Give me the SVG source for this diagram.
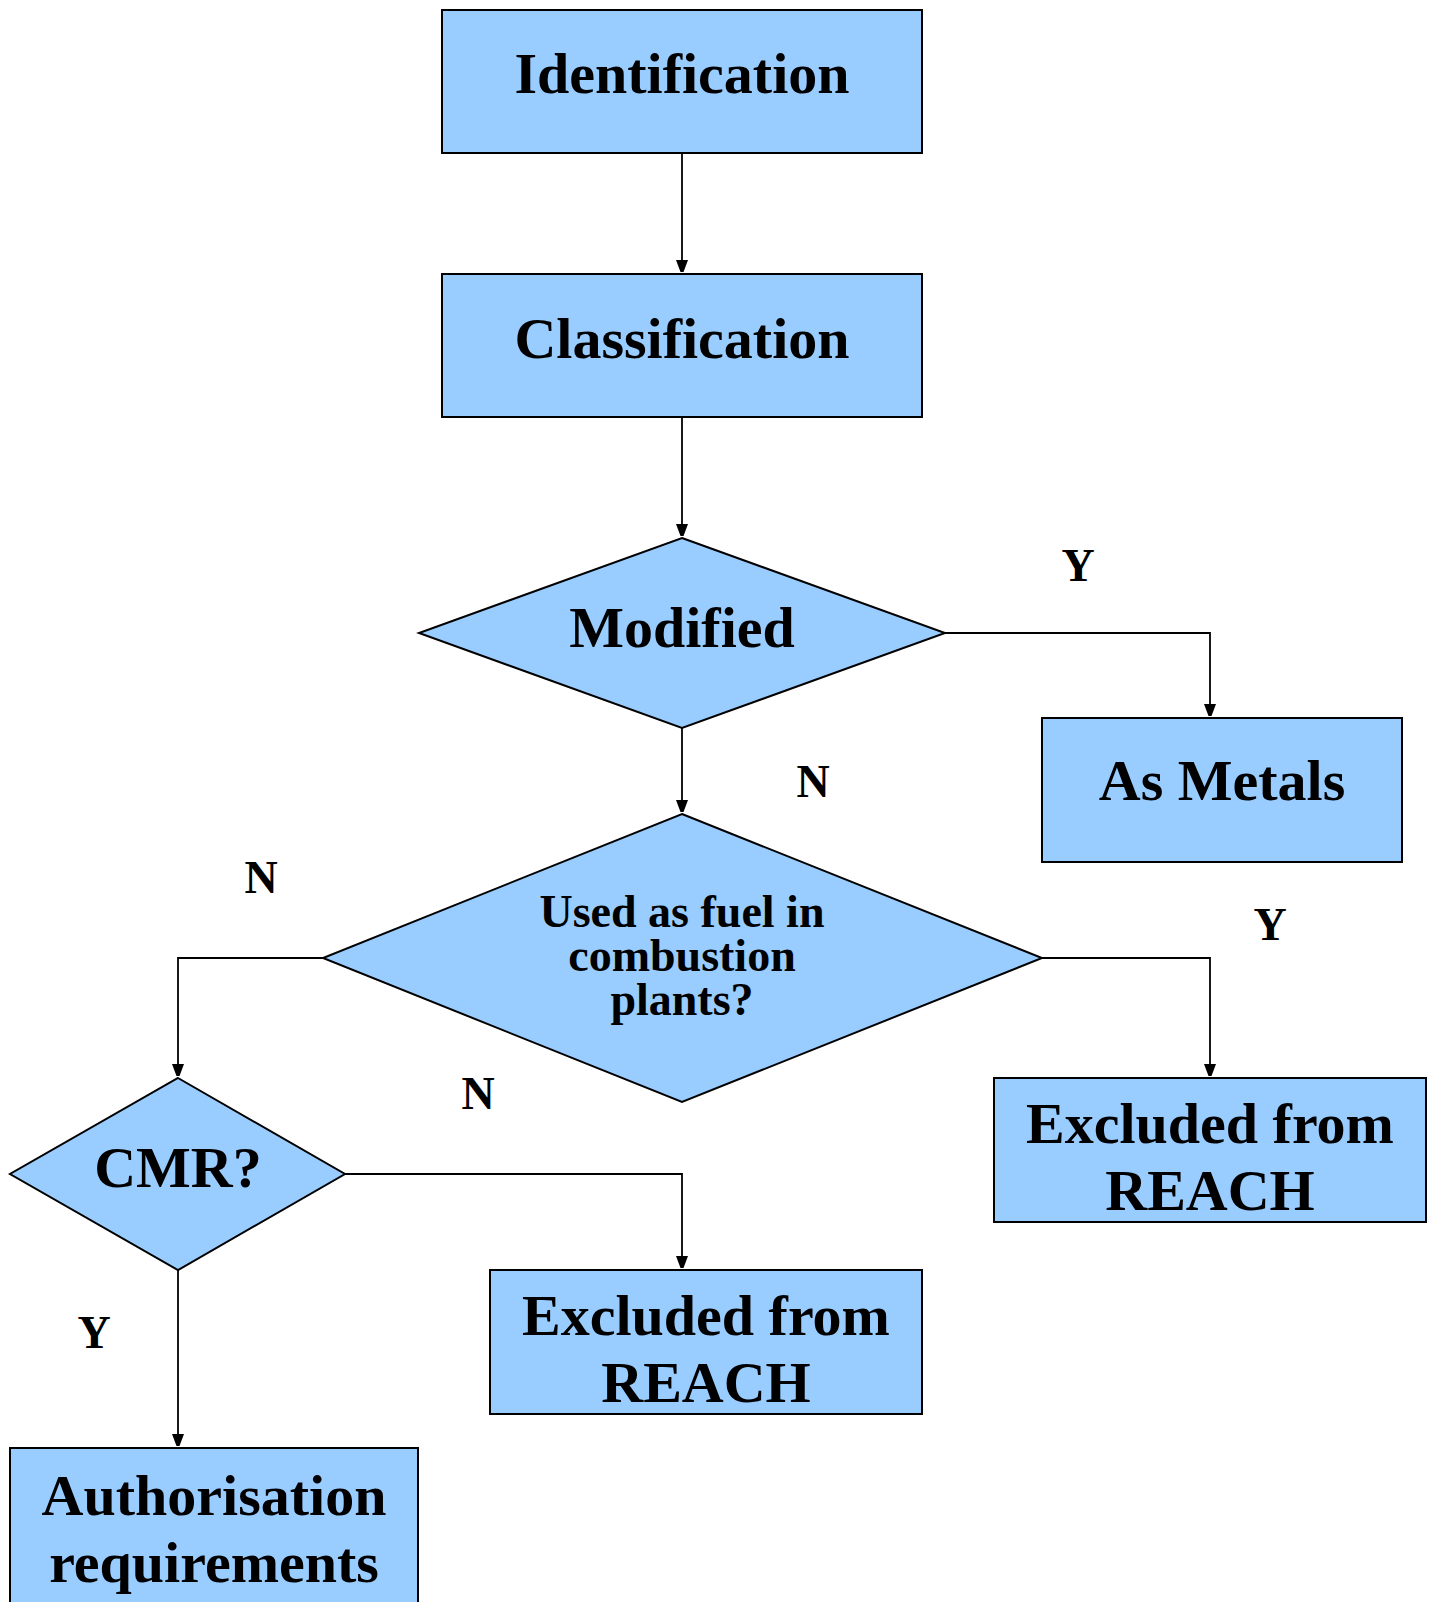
<svg xmlns="http://www.w3.org/2000/svg" width="1434" height="1602" viewBox="0 0 1434 1602">
<style>
.node{fill:#99CCFF;stroke:#000;stroke-width:2}
.t{font-family:"Liberation Serif","Times New Roman",serif;font-weight:bold;font-size:58px;fill:#000;text-anchor:middle}
.s{font-size:46px}
.c{fill:none;stroke:#000;stroke-width:1.8}
</style>
<defs>
<marker id="ah" viewBox="0 0 12 16" refX="12" refY="6" markerWidth="12" markerHeight="16" markerUnits="userSpaceOnUse" orient="auto">
<path d="M0,0 L16,6 L0,12 Z" fill="#000"/>
</marker>
</defs>
<rect width="1434" height="1602" fill="#fff"/>
<g id="connectors">
<path class="c" d="M682,153 V272" marker-end="url(#ah)"/>
<path class="c" d="M682,417 V536" marker-end="url(#ah)"/>
<path class="c" d="M945,633 H1210 V716" marker-end="url(#ah)"/>
<path class="c" d="M682,728 V812" marker-end="url(#ah)"/>
<path class="c" d="M323,958 H178 V1076" marker-end="url(#ah)"/>
<path class="c" d="M1042,958 H1210 V1076" marker-end="url(#ah)"/>
<path class="c" d="M345,1174 H682 V1268" marker-end="url(#ah)"/>
<path class="c" d="M178,1270 V1446" marker-end="url(#ah)"/>
<text class="t s" x="1078" y="581">Y</text>
<text class="t s" x="813" y="797">N</text>
<text class="t s" x="261" y="893">N</text>
<text class="t s" x="1270" y="940">Y</text>
<text class="t s" x="478" y="1109">N</text>
<text class="t s" x="94" y="1348">Y</text>
</g>
<g id="identification">
<rect class="node" x="442" y="10" width="480" height="143"/>
<text class="t" x="682" y="93">Identification</text>
</g>
<g id="classification">
<rect class="node" x="442" y="274" width="480" height="143"/>
<text class="t" x="682" y="358">Classification</text>
</g>
<g id="modified">
<polygon class="node" points="682,538 945,633 682,728 419,633"/>
<text class="t" x="682" y="647">Modified</text>
</g>
<g id="as-metals">
<rect class="node" x="1042" y="718" width="360" height="144"/>
<text class="t" x="1222" y="800">As Metals</text>
</g>
<g id="used-as-fuel">
<polygon class="node" points="682,814 1042,958 682,1102 323,958"/>
<text class="t s" x="682" y="927">Used as fuel in</text>
<text class="t s" x="682" y="971">combustion</text>
<text class="t s" x="682" y="1015">plants?</text>
</g>
<g id="excluded-1">
<rect class="node" x="994" y="1078" width="432" height="144"/>
<text class="t" x="1210" y="1143">Excluded from</text>
<text class="t" x="1210" y="1210">REACH</text>
</g>
<g id="cmr">
<polygon class="node" points="178,1078 345,1174 178,1270 10,1174"/>
<text class="t" x="178" y="1187">CMR?</text>
</g>
<g id="excluded-2">
<rect class="node" x="490" y="1270" width="432" height="144"/>
<text class="t" x="706" y="1335">Excluded from</text>
<text class="t" x="706" y="1402">REACH</text>
</g>
<g id="authorisation">
<rect class="node" x="10" y="1448" width="408" height="170"/>
<text class="t" x="214" y="1515">Authorisation</text>
<text class="t" x="214" y="1582">requirements</text>
</g>
</svg>
